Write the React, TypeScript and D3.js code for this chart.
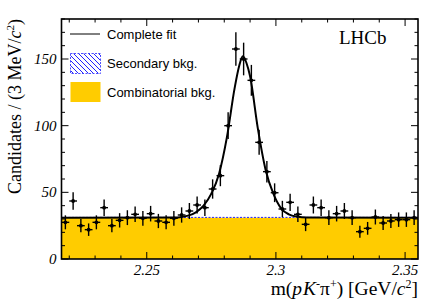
import React from 'react';
import * as d3 from 'd3';

const W = 432;
const H = 305;
const margin = { top: 19, right: 14, bottom: 46, left: 61.5 };

// mass bin centres [GeV/c2], 3 MeV bins
const massBins = [
  2.2185, 2.2215, 2.2245, 2.2275, 2.2305, 2.2335, 2.2365, 2.2395, 2.2425, 2.2455,
  2.2485, 2.2515, 2.2545, 2.2575, 2.2605, 2.2635, 2.2665, 2.2695, 2.2725, 2.2755,
  2.2785, 2.2815, 2.2845, 2.2875, 2.2905, 2.2935, 2.2965, 2.2995, 2.3025, 2.3055,
  2.3085, 2.3115, 2.3145, 2.3175, 2.3205, 2.3235, 2.3265, 2.3295, 2.3325, 2.3355,
  2.3385, 2.3415, 2.3445, 2.3475, 2.3505, 2.3535,
];
// candidates per bin
const candidates = [
  27.5, 43.5, 25, 22, 27.5, 38.5, 25, 29, 31, 33.5,
  30.5, 34, 28.5, 27.5, 30.5, 33, 36, 40.5, 38.5, 52.5,
  62.5, 100, 157.5, 150, 134, 87.5, 65.5, 49.7, 37.5, 42.5,
  33.5, 26, 40.5, 38.5, 31, 34, 36, 31, 20.5, 23,
  31.5, 27, 28.5, 29.5, 29.5, 31,
];

// complete fit
const fitMass = [
  2.217, 2.262, 2.266, 2.269, 2.272, 2.275, 2.278, 2.281, 2.284, 2.2858, 2.2872,
  2.2886, 2.290, 2.293, 2.296, 2.299, 2.302, 2.305, 2.308, 2.312, 2.355,
];
const fitValue = [
  31, 31.2, 32.5, 35, 40, 49, 64, 91, 128, 145, 152,
  147, 137, 98, 67, 49, 38, 33.5, 31.8, 31.1, 31,
];
const combBkg = 31; // combinatorial level
const secBkg = 31.2; // secondary bkg on top (tiny)

const xTickLabels = [2.25, 2.3, 2.35];
const yTickLabels = [0, 50, 100, 150];

const legendItems = ['Complete fit', 'Secondary bkg.', 'Combinatorial bkg.'];

export default function App() {
  const x = d3.scaleLinear().domain([2.217, 2.355]).range([margin.left, W - margin.right]);
  const y = d3.scaleLinear().domain([0, 180]).range([H - margin.bottom, margin.top]);
  const [x0, x1] = x.range();
  const [y0, y1] = y.range();

  const fitLine = d3
    .line<number>()
    .x((d, i) => x(fitMass[i]))
    .y((d) => y(d))
    .curve(d3.curveMonotoneX);

  const xMinor = x.ticks(14);
  const yMinor = y.ticks(18);
  const isMajorX = (v: number) => Math.round(v * 100) % 5 === 0;
  const isMajorY = (v: number) => v % 50 === 0;
  const halfBin = (x(0.003) - x(0)) / 2;

  const serif = "'Liberation Serif', 'Times New Roman', serif";
  const sans = "'Liberation Sans', Arial, sans-serif";

  return (
    <svg width={W} height={H} style={{ position: 'absolute', left: 0, top: 0 }}>
      <defs>
        <pattern id="hatch" patternUnits="userSpaceOnUse" width="5" height="5">
          <path d="M-1,-1 L6,6 M-1,4 L1,6 M4,-1 L6,1" stroke="#2222ff" strokeWidth="1" />
        </pattern>
        <clipPath id="plot">
          <rect x={x0} y={y1} width={x1 - x0} height={y0 - y1} />
        </clipPath>
      </defs>
      <rect width={W} height={H} fill="white" />

      <g clipPath="url(#plot)">
        <rect x={x0} y={y(combBkg)} width={x1 - x0} height={y(0) - y(combBkg)} fill="#ffcc00" />
        <line x1={x0} x2={x1} y1={y(secBkg)} y2={y(secBkg)} stroke="#2222ff" strokeWidth={1} strokeDasharray="2,1.5" />
        <path d={fitLine(fitValue) || ''} fill="none" stroke="black" strokeWidth={2} />
      </g>

      {/* data points */}
      <g stroke="black" strokeWidth={1.4}>
        {candidates.map((n, i) => {
          const cx = x(massBins[i]);
          const err = Math.sqrt(n);
          return (
            <g key={i}>
              <line x1={cx} x2={cx} y1={y(n - err)} y2={y(n + err)} />
              <line x1={cx - halfBin} x2={cx + halfBin} y1={y(n)} y2={y(n)} />
              <circle cx={cx} cy={y(n)} r={1.9} fill="black" stroke="none" />
            </g>
          );
        })}
      </g>

      {/* frame and ticks */}
      <g stroke="black" strokeWidth={1}>
        {xMinor.map((v) => {
          const len = isMajorX(v) ? 7 : 3.5;
          return (
            <g key={'x' + v}>
              <line x1={x(v)} x2={x(v)} y1={y0} y2={y0 - len} />
              <line x1={x(v)} x2={x(v)} y1={y1} y2={y1 + len} />
            </g>
          );
        })}
        {yMinor.map((v) => {
          const len = isMajorY(v) ? 7 : 3.5;
          return (
            <g key={'y' + v}>
              <line x1={x0} x2={x0 + len} y1={y(v)} y2={y(v)} />
              <line x1={x1} x2={x1 - len} y1={y(v)} y2={y(v)} />
            </g>
          );
        })}
      </g>
      <rect x={x0} y={y1} width={x1 - x0} height={y0 - y1} fill="none" stroke="black" strokeWidth={1.6} />

      {/* tick labels */}
      <g fontFamily={serif} fontStyle="italic" fontSize={15} fill="black">
        {xTickLabels.map((v) => (
          <text key={v} x={x(v)} y={275} textAnchor="middle">{String(v)}</text>
        ))}
        {yTickLabels.map((v) => (
          <text key={v} x={x0 - 5} y={y(v) + 5} textAnchor="end">{String(v)}</text>
        ))}
      </g>

      {/* axis titles */}
      <text x={x1} y={295} textAnchor="end" fontFamily={serif} fontSize={19.5}>
        m(<tspan fontStyle="italic">p</tspan>
        <tspan fontStyle="italic" dx={1}>K</tspan>
        <tspan fontSize={12} dy={-7.5}>-</tspan>
        <tspan dy={7.5}>π</tspan>
        <tspan fontSize={12} dy={-7.5}>+</tspan>
        <tspan dy={7.5}>) [GeV/</tspan>
        <tspan fontStyle="italic">c</tspan>
        <tspan fontSize={12} dy={-7.5}>2</tspan>
        <tspan dy={7.5}>]</tspan>
      </text>
      <text transform={`translate(21,${y1}) rotate(-90)`} textAnchor="end" fontFamily={serif} fontSize={18}>
        Candidates / (3 MeV/<tspan fontStyle="italic">c</tspan>
        <tspan fontSize={11} dy={-7}>2</tspan>
        <tspan dy={7}>)</tspan>
      </text>

      <text x={339} y={43.5} fontFamily={serif} fontSize={19}>LHCb</text>

      {/* legend */}
      <g fontFamily={sans} fontSize={13}>
        <line x1={70} x2={100} y1={34} y2={34} stroke="black" strokeWidth={1} />
        <rect x={70.5} y={53.5} width={30} height={20} fill="url(#hatch)" stroke="#2222ff" strokeWidth={0.8} strokeDasharray="2,1.5" />
        <rect x={70.5} y={82} width={30} height={20} fill="#ffcc00" />
        {legendItems.map((t, i) => (
          <text key={t} x={107} y={38.5 + i * 29} fill="black">{t}</text>
        ))}
      </g>
    </svg>
  );
}
